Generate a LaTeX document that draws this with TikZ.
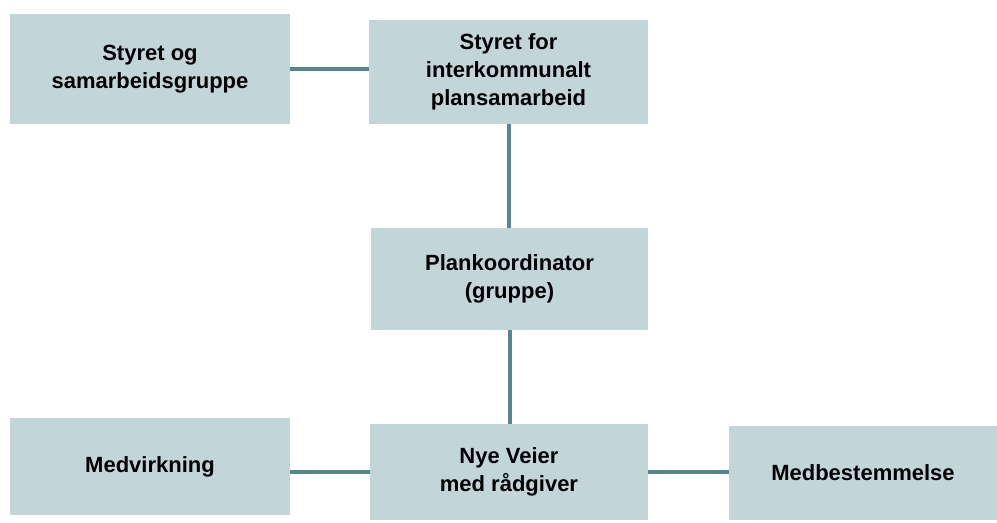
\documentclass[tikz,border=0pt]{standalone}
\usepackage{fontspec}
\setmainfont{Liberation Sans}
\usetikzlibrary{calc}
\definecolor{boxfill}{RGB}{194,214,218}
\definecolor{linecolor}{RGB}{84,134,148}
\tikzset{
  box/.style  = {fill=boxfill, align=center, inner sep=4pt,
                 font=\fontsize{16.5}{21}\selectfont\bfseries},
  link/.style = {draw=linecolor, line width=3pt},
}

\begin{document}
\begin{tikzpicture}[x=0.75pt, y=-0.75pt]
  \useasboundingbox (0,0) rectangle (997,523);
  % top row
  \node[box, minimum width=280*0.75pt, minimum height=110*0.75pt] (styret) at (150,69)
    {Styret og\\samarbeidsgruppe};
  \node[box, minimum width=279*0.75pt, minimum height=104*0.75pt] (styrefor) at (508.5,72)
    {Styret for\\interkommunalt\\plansamarbeid};
  % middle
  \node[box, minimum width=277*0.75pt, minimum height=102*0.75pt] (plankoord) at (509.5,279)
    {Plankoordinator\\(gruppe)};
  % bottom row
  \node[box, minimum width=280*0.75pt, minimum height=97*0.75pt] (medvirk) at (150,466.5)
    {Medvirkning};
  \node[box, minimum width=278*0.75pt, minimum height=96*0.75pt] (nyeveier) at (509,472)
    {Nye Veier\\med rådgiver};
  \node[box, minimum width=268*0.75pt, minimum height=94*0.75pt] (medbest) at (863,473)
    {Medbestemmelse};
  % connectors
  \draw[link] (styret.east) -- (styret.east -| styrefor.west);
  \draw[link] (styrefor.south) -- (styrefor.south |- plankoord.north);
  \draw[link] (plankoord.south) -- (plankoord.south |- nyeveier.north);
  \draw[link] (nyeveier.west) -- (nyeveier.west -| medvirk.east);
  \draw[link] (nyeveier.east) -- (nyeveier.east -| medbest.west);
\end{tikzpicture}
\end{document}
